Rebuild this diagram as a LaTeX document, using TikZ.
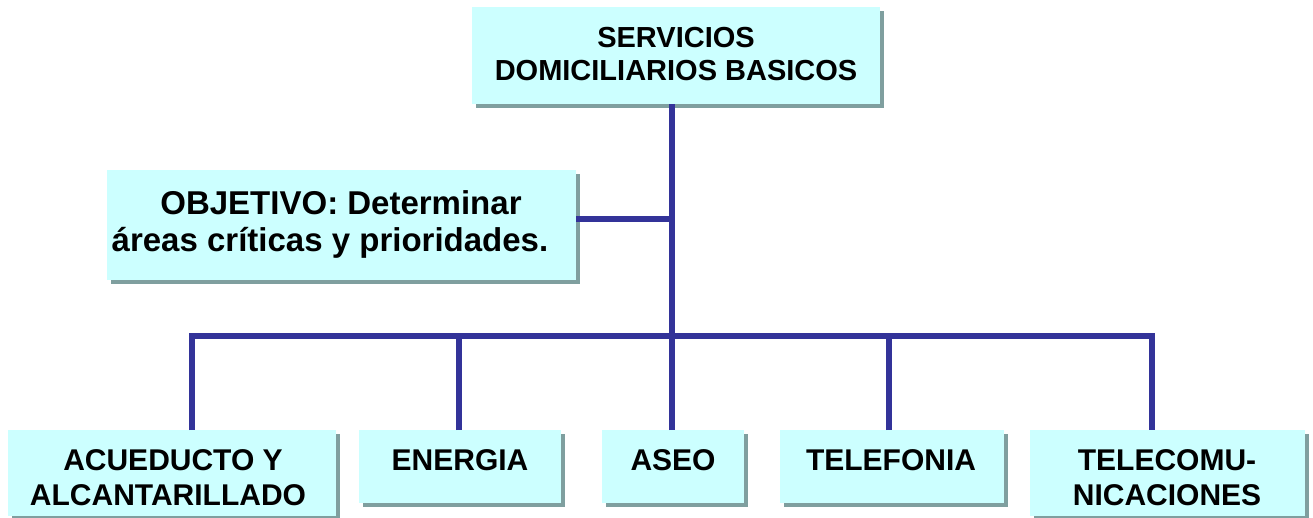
\documentclass[tikz,border=0pt]{standalone}
\usepackage{fontspec}
\setmainfont{Liberation Sans}
\usetikzlibrary{shadows}
\definecolor{cyanf}{HTML}{CCFFFF}
\definecolor{shadowc}{HTML}{7F9F9F}
\definecolor{linec}{HTML}{333399}
\begin{document}
\begin{tikzpicture}[x=1pt,y=1pt,
  box/.style={fill=cyanf, draw=none, inner sep=0pt, anchor=north west,
    general shadow={fill=shadowc, shadow xshift=4pt, shadow yshift=-4pt}},
  conn/.style={draw=linec, line width=6pt, line join=miter},
  lbl/.style={anchor=base, inner sep=0pt, font=\bfseries\fontsize{29}{33}\selectfont},
  lblo/.style={anchor=base, inner sep=0pt, font=\bfseries\fontsize{33}{37}\selectfont},
  lblb/.style={anchor=base, inner sep=0pt, font=\bfseries\fontsize{30}{35}\selectfont}]
\useasboundingbox (0,0) rectangle (1313,-518);
% junction coordinates
\coordinate (j1) at (672,-219.5);
\coordinate (c1) at (192,-335.5);
\coordinate (c2) at (459,-335.5);
\coordinate (c3) at (672,-335.5);
\coordinate (c4) at (889,-335.5);
\coordinate (c5) at (1152,-335.5);
% boxes
\node[box, minimum width=408pt, minimum height=97pt] (top) at (472,-7) {};
\node[box, minimum width=469pt, minimum height=110pt] (obj) at (107,-170) {};
\node[box, minimum width=328pt, minimum height=86pt] (acu) at (8,-430) {};
\node[box, minimum width=202pt, minimum height=73pt] (ene) at (359,-430) {};
\node[box, minimum width=142pt, minimum height=73pt] (aseo) at (602,-430) {};
\node[box, minimum width=224pt, minimum height=73pt] (tel) at (780,-430) {};
\node[box, minimum width=275pt, minimum height=86pt] (tcom) at (1030,-430) {};
% connectors
\draw[conn] (top.south -| j1) -- (c3);
\draw[conn] (obj.east |- j1) -- (j1);
\draw[conn] (acu.north -| c1) -- (c1) -- (c5) -- (tcom.north -| c5);
\draw[conn] (ene.north -| c2) -- (c2);
\draw[conn] (aseo.north -| c3) -- (c3);
\draw[conn] (tel.north -| c4) -- (c4);
% texts
\node[lbl] (t1) at (676,-48) {SERVICIOS};
\node[lbl] (t2) at (676,-81) {DOMICILIARIOS BASICOS};
\node[lblo] (o1) at (341,-215) {OBJETIVO: Determinar};
\node[lblo] (o2) at (330,-252) {áreas críticas y prioridades.};
\node[lblb] (a1) at (173,-470) {ACUEDUCTO Y};
\node[lblb] (a2) at (168,-505) {ALCANTARILLADO};
\node[lblb] (e1) at (460,-470) {ENERGIA};
\node[lblb] (s1) at (673,-470) {ASEO};
\node[lblb] (f1) at (891,-470) {TELEFONIA};
\node[lblb] (m1) at (1167,-470) {TELECOMU-};
\node[lblb] (m2) at (1167,-505) {NICACIONES};
\end{tikzpicture}
\end{document}
